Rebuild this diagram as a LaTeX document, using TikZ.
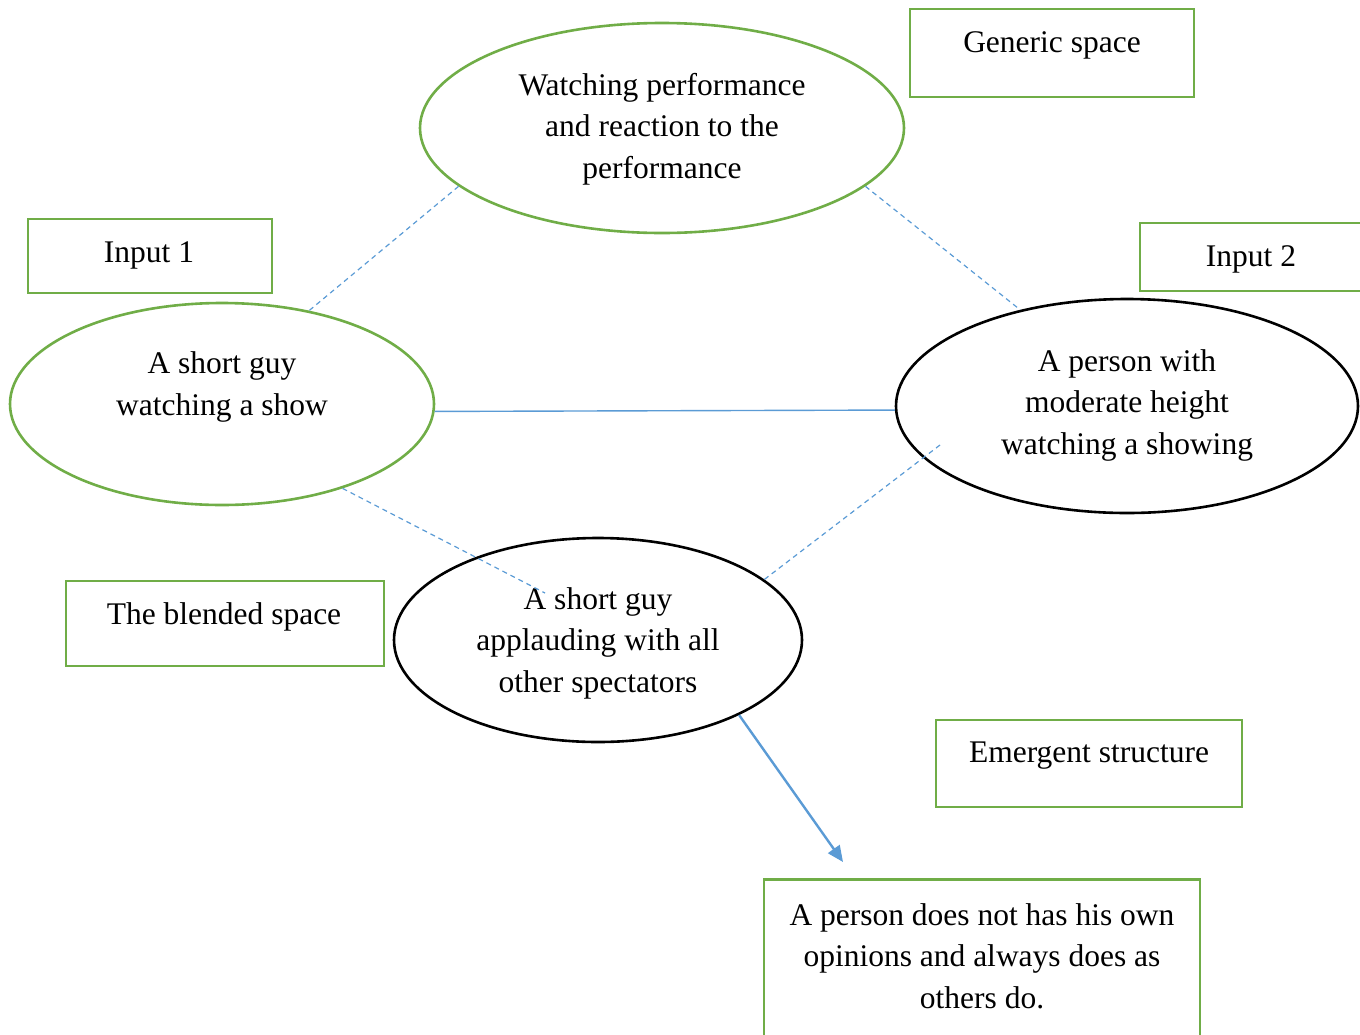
\documentclass[tikz,border=0pt]{standalone}
\usepackage{fontspec}
\setmainfont{Liberation Serif}
\usetikzlibrary{shapes.geometric,arrows.meta}
\definecolor{leafgreen}{HTML}{70AD47}
\definecolor{skyblue}{HTML}{5B9BD5}
\begin{document}
\begin{tikzpicture}[x=1pt,y=-1pt,
  txt/.style={align=center,inner sep=0pt,font=\fontsize{31.5}{41.5}\selectfont},
  greenoval/.style={ellipse,draw=leafgreen,line width=2.6pt,inner sep=0pt},
  blackoval/.style={ellipse,draw=black,line width=2.6pt,inner sep=0pt},
  labelbox/.style={rectangle,draw=leafgreen,line width=2.6pt,inner sep=0pt},
  mapping/.style={draw=skyblue,line width=1.2pt,dash pattern=on 5pt off 4pt},
  link/.style={draw=skyblue,line width=1.4pt}]
\useasboundingbox (0,0) rectangle (1360,1034);
\clip (0,0) rectangle (1360,1034);

% mental spaces
\node[greenoval,minimum width=484,minimum height=210] (generic) at (662,128) {};
\node[greenoval,minimum width=424,minimum height=202] (inone) at (222,404) {};
\node[blackoval,minimum width=462,minimum height=214] (intwo) at (1127,406) {};
\node[blackoval,minimum width=408,minimum height=204] (blend) at (598,640) {};

\node[txt] at (662,129) {Watching performance\\and reaction to the\\performance};
\node[txt] at (222,387) {A short guy\\watching a show};
\node[txt] at (1127,405) {A person with\\moderate height\\watching a showing};
\node[txt] at (598,643) {A short guy\\applauding with all\\other spectators};

% caption boxes
\node[labelbox,minimum width=284,minimum height=88] (genbox) at (1052,53) {};
\node[txt] at (1052,45) {Generic space};
\node[labelbox,minimum width=244,minimum height=74] (onebox) at (150,256) {};
\node[txt] at (149,255) {Input 1};
\node[labelbox,minimum width=240,minimum height=68] (twobox) at (1260,257) {};
\node[txt] at (1251,259) {Input 2};
\node[labelbox,minimum width=318,minimum height=85] (blendbox) at (225,623.5) {};
\node[txt] at (224,617) {The blended space};
\node[labelbox,minimum width=306,minimum height=87] (emergbox) at (1089,763.5) {};
\node[txt] at (1089,756) {Emergent structure};
\node[labelbox,minimum width=436,minimum height=180,anchor=north] (resultbox) at (982,878) {};
\node[txt] at (982,956) {A person does not has his own\\opinions and always does as\\others do.};

% cross-space mappings
\coordinate (blendend) at (545,593);
\coordinate (twoinner) at (940,445);
\coordinate (arrowend) at (843,862);
\draw[mapping] (generic.196.5) -- (inone.47.9);
\draw[mapping] (generic.344) -- (intwo.138.3);
\draw[mapping] (inone.325.7) -- (blendend);
\draw[mapping] (twoinner) -- (blend.20.6);
\draw[link] (inone.358.1) -- (intwo.181.2);
\draw[skyblue,line width=2.4pt,-{Triangle[length=16pt,width=14pt]}] (blend.332.3) -- (arrowend);
\end{tikzpicture}
\end{document}
